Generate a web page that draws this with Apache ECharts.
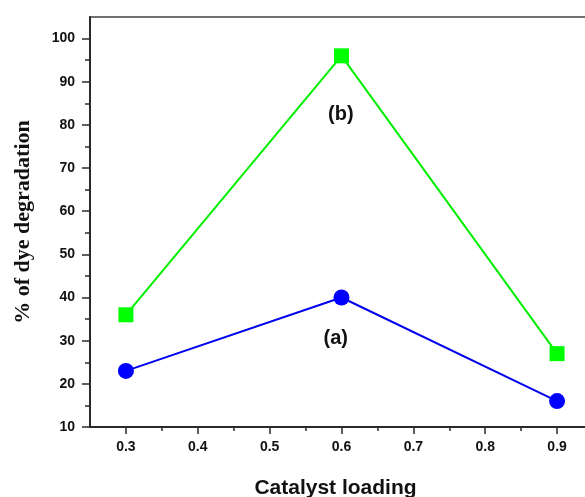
<!DOCTYPE html>
<html>
<head>
<meta charset="utf-8">
<script src="https://cdn.jsdelivr.net/npm/echarts@6/dist/echarts.min.js"></script>
<style>
  html, body { margin: 0; padding: 0; background: #ffffff; }
  #chart { width: 585px; height: 497px; }
</style>
</head>
<body>
<div id="chart"></div>
<script>
// Catalyst loading values on the x axis
const loading = [0.3, 0.6, 0.9];
// (a) and (b) dye degradation percentages
const degradationA = [23, 40, 16];
const degradationB = [36, 96, 27];
// Tick values
const xMajorTicks = [0.3, 0.4, 0.5, 0.6, 0.7, 0.8, 0.9];
const xMinorTicks = [0.35, 0.45, 0.55, 0.65, 0.75, 0.85];
const yMajorTicks = [10, 20, 30, 40, 50, 60, 70, 80, 90, 100];
const yMinorTicks = [15, 25, 35, 45, 55, 65, 75, 85, 95];
// Curve labels: [text, x, y]
const curveLabels = [['(b)', 0.599, 82.5], ['(a)', 0.592, 30.5]];

const X_MIN = 0.25, X_MAX = 0.95, Y_MIN = 10, Y_MAX = 105;
const axisColor = '#2a2a2a';
const sansFont = 'Liberation Sans, Arial, sans-serif';
const tickFont = { fontFamily: sansFont, fontWeight: 'bold', fontSize: 14, color: '#111' };

const chart = echarts.init(document.getElementById('chart'), null, { renderer: 'canvas' });

const pairs = arr => loading.map((x, i) => [x, arr[i]]);

// Text annotation placed at a data coordinate
const curveLabel = ([text, x, y]) => ({
  symbol: 'circle', symbolSize: 1,
  itemStyle: { color: 'rgba(0,0,0,0)' },
  data: [{ coord: [x, y] }],
  label: { show: true, position: 'inside', formatter: text, fontFamily: sansFont, fontWeight: 'bold', fontSize: 20, color: '#111' }
});

chart.setOption({
  animation: false,
  backgroundColor: '#ffffff',
  grid: {
    left: 90, top: 17, bottom: 70, right: -8,
    show: true, borderColor: '#444', borderWidth: 1.5, backgroundColor: 'transparent',
    outerBoundsMode: 'none'
  },
  xAxis: [{
    type: 'value', min: X_MIN, max: X_MAX, position: 'bottom',
    name: 'Catalyst loading', nameLocation: 'middle', nameGap: 51,
    nameTextStyle: { fontFamily: sansFont, fontWeight: 'bold', fontSize: 21, color: '#111', padding: [0, 12, 0, 0] },
    axisLine: { show: true, onZero: false, lineStyle: { color: axisColor, width: 2 } },
    axisTick: { show: true, inside: false, length: 7, lineStyle: { color: axisColor, width: 1.5 }, customValues: xMajorTicks },
    axisLabel: { show: true, margin: 13, ...tickFont, customValues: xMajorTicks, formatter: v => v.toFixed(1) },
    splitLine: { show: false }
  }, {
    type: 'value', min: X_MIN, max: X_MAX, position: 'bottom', offset: 0,
    axisLine: { show: false },
    axisTick: { show: true, inside: false, length: 4, lineStyle: { color: axisColor, width: 1.5 }, customValues: xMinorTicks },
    axisLabel: { show: false },
    splitLine: { show: false }
  }],
  yAxis: [{
    type: 'value', min: Y_MIN, max: Y_MAX, position: 'left',
    name: '% of dye degradation', nameLocation: 'middle', nameGap: 56, nameRotate: 90,
    nameTextStyle: { fontFamily: 'Liberation Serif, Times New Roman, serif', fontWeight: 'bold', fontSize: 22, color: '#111' },
    axisLine: { show: true, onZero: false, lineStyle: { color: axisColor, width: 2 } },
    axisTick: { show: true, inside: false, length: 8, lineStyle: { color: axisColor, width: 1.5 }, customValues: yMajorTicks },
    axisLabel: { show: true, margin: 15, ...tickFont, customValues: yMajorTicks },
    splitLine: { show: false }
  }, {
    type: 'value', min: Y_MIN, max: Y_MAX, position: 'left', offset: 0,
    axisLine: { show: false },
    axisTick: { show: true, inside: false, length: 5, lineStyle: { color: axisColor, width: 1.5 }, customValues: yMinorTicks },
    axisLabel: { show: false },
    splitLine: { show: false }
  }],
  series: [{
    name: '(b)', type: 'line', data: pairs(degradationB),
    symbol: 'rect', symbolSize: 15,
    lineStyle: { color: '#00ee00', width: 2 },
    itemStyle: { color: '#00ff00' },
    z: 3,
    markPoint: curveLabel(curveLabels[0])
  }, {
    name: '(a)', type: 'line', data: pairs(degradationA),
    symbol: 'circle', symbolSize: 16,
    lineStyle: { color: '#0000ee', width: 2 },
    itemStyle: { color: '#0000ff' },
    z: 3,
    markPoint: curveLabel(curveLabels[1])
  }]
});
</script>
</body>
</html>
